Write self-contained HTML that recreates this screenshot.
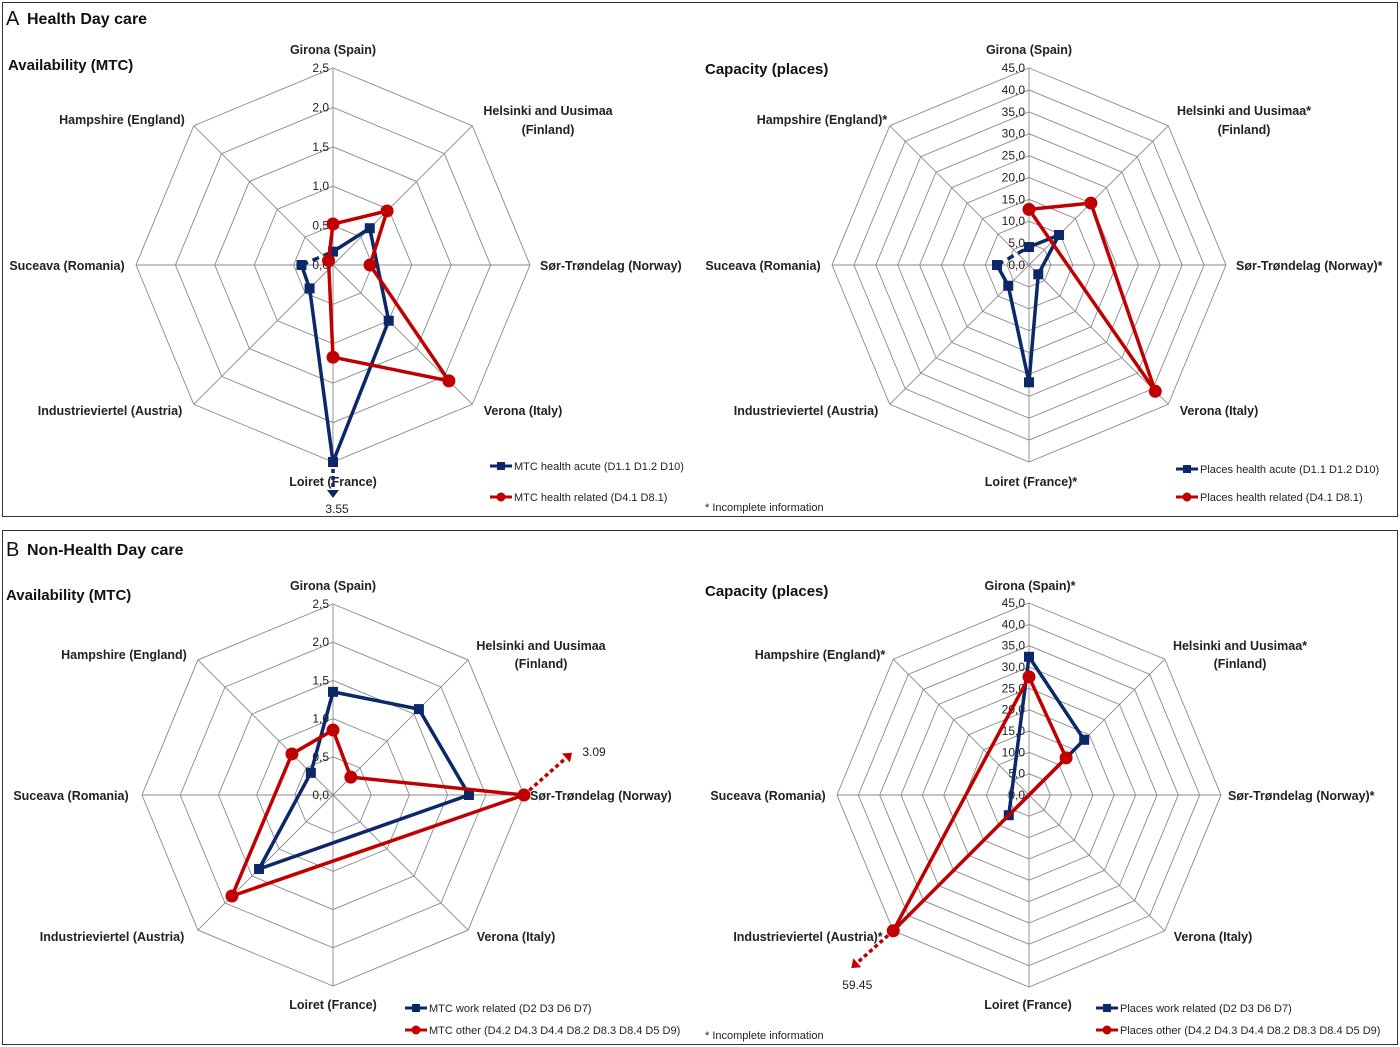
<!DOCTYPE html>
<html><head><meta charset="utf-8"><style>
html,body{margin:0;padding:0;background:#fff;}
svg{display:block;font-family:"Liberation Sans",Arial,sans-serif;}
.cat{font-size:12.5px;font-weight:bold;fill:#222;}
.tick{font-size:12px;fill:#222;}
.leg{font-size:11px;fill:#222;}
.ttl{font-size:15px;font-weight:bold;fill:#111;}
</style></head><body>
<svg id="page" width="1400" height="1047" viewBox="0 0 1400 1047" xmlns="http://www.w3.org/2000/svg">
<rect x="2.5" y="2.5" width="1395" height="514" fill="none" stroke="#333" stroke-width="1"/>
<rect x="2.5" y="530.5" width="1395" height="514" fill="none" stroke="#333" stroke-width="1"/>
<text x="6" y="25" style="font-size:20px;fill:#111">A</text>
<text x="27" y="24" style="font-size:16px;font-weight:bold;fill:#111">Health Day care</text>
<text x="6" y="556" style="font-size:20px;fill:#111">B</text>
<text x="27" y="555" style="font-size:16px;font-weight:bold;fill:#111">Non-Health Day care</text>
<text x="705" y="511" class="leg">* Incomplete information</text>
<text x="705" y="1039" class="leg">* Incomplete information</text>
<g id="charts"></g>
</svg>
<script>
// axis order: Girona, Helsinki, Sør-Trøndelag, Verona, Loiret, Industrieviertel, Suceava, Hampshire
const categories = ["Girona","Helsinki","Sor-Trondelag","Verona","Loiret","Industrieviertel","Suceava","Hampshire"];
const mtcTicks = ["0,0","0,5","1,0","1,5","2,0","2,5"];
const placesTicks = ["0,0","5,0","10,0","15,0","20,0","25,0","30,0","35,0","40,0","45,0"];
const aAcuteMTC   = [0.17, 0.66, null, 1.0, 3.55, 0.42, 0.40, null];
const aRelatedMTC = [0.52, 0.97, 0.47, 2.08, 1.17, null, null, 0.08];
const aAcutePlaces   = [4.1, 9.7, null, 3.0, 26.8, 6.7, 7.3, null];
const aRelatedPlaces = [12.7, 20.0, null, 40.8, null, null, null, null];
const bWorkMTC  = [1.35, 1.59, 1.78, null, null, 1.37, null, 0.41];
const bOtherMTC = [0.85, 0.33, 3.09, null, null, 1.87, null, 0.76];
const bWorkPlaces  = [32.4, 18.3, null, null, null, 6.7, null, null];
const bOtherPlaces = [27.7, 12.3, null, null, null, 59.45, null, null];

const NS="http://www.w3.org/2000/svg";
const root=document.getElementById('charts');
function mk(tag,attrs,parent){const e=document.createElementNS(NS,tag);for(const k in attrs)e.setAttribute(k,attrs[k]);(parent||root).appendChild(e);return e;}
const BLUE="#0c2868", RED="#c00000";

function radar(cfg){
  const g=mk('g',{});
  
  
  const n=categories.length, cx=cfg.cx, cy=cfg.cy, R=cfg.R, max=cfg.max, steps=cfg.ticks.length-1;
  const ang=i=>-Math.PI/2+i*2*Math.PI/n;
  const pt=(i,v)=>{const r=Math.min(v,max)/max*R;return [cx+r*Math.cos(ang(i)),cy+r*Math.sin(ang(i))];};
  for(let s=1;s<=steps;s++){
    const r=R*s/steps;let p=[];
    for(let i=0;i<n;i++)p.push((cx+r*Math.cos(ang(i))).toFixed(1)+','+(cy+r*Math.sin(ang(i))).toFixed(1));
    const ring=mk('polygon',{points:p.join(' '),fill:'none',stroke:'#8a8a8a','stroke-width':0.9},g);
    
    
  }
  for(let i=0;i<n;i++){
    const sp=mk('line',{x1:cx,y1:cy,x2:cx+R*Math.cos(ang(i)),y2:cy+R*Math.sin(ang(i)),stroke:'#8a8a8a','stroke-width':0.9},g);
    
    
  }
  cfg.ticks.forEach((t,s)=>{
    const tx=mk('text',{x:cx-4,y:cy-R*s/steps+4,'text-anchor':'end',class:'tick'},g);
    tx.textContent=t;
    
    
  });
  cfg.labels.forEach(L=>{
    const tx=mk('text',{x:L[0],y:L[1],'text-anchor':L[3]||'middle',class:'cat'},g);
    tx.textContent=L[2];
    
    
  });
  const at=mk('text',{x:cfg.title[0],y:cfg.title[1],class:'ttl'},g);
  at.textContent=cfg.title[2];
  
  
  cfg.series.forEach((S,si)=>{
    const idx=[];S.data.forEach((v,i)=>{if(v!==null)idx.push(i);});
    for(let k=0;k<idx.length;k++){
      const a=idx[k],b=idx[(k+1)%idx.length];
      const wrap=b<a && (a!==n-1 || b!==0);
      const p1=pt(a,S.data[a]),p2=pt(b,S.data[b]);
      const seg=mk('line',{x1:p1[0],y1:p1[1],x2:p2[0],y2:p2[1],stroke:S.color,'stroke-width':3.5,'stroke-dasharray':(wrap&&S.dashWrap)?'7 5':'none'},g);
      
      
    }
    S.data.forEach((v,i)=>{
      if(v===null)return;
      const p=pt(i,v);let m;
      if(S.shape==='sq')m=mk('rect',{x:p[0]-5,y:p[1]-5,width:10,height:10,fill:S.color},g);
      else m=mk('circle',{cx:p[0],cy:p[1],r:6.5,fill:S.color},g);
      
      
      if(v>max && S.arrow){
        const A=S.arrow;
        const ln=mk('line',{x1:p[0],y1:p[1],x2:p[0]+A.dx,y2:p[1]+A.dy,stroke:S.color,'stroke-width':3.5,'stroke-dasharray':'4 3'},g);
        
        
        const L=Math.hypot(A.dx,A.dy),ux=A.dx/L,uy=A.dy/L,ex=p[0]+A.dx,ey=p[1]+A.dy;
        const hd=mk('polygon',{points:`${ex+ux*8},${ey+uy*8} ${ex-uy*6},${ey+ux*6} ${ex+uy*6},${ey-ux*6}`,fill:S.color},g);
        
        
        const vt=mk('text',{x:p[0]+A.tx,y:p[1]+A.ty,class:'tick','text-anchor':'middle'},g);
        vt.textContent=String(v);
        
        
      }
    });
    const ly=cfg.legend[1]+si*cfg.legend[2];
    const ll=mk('line',{x1:cfg.legend[0],y1:ly,x2:cfg.legend[0]+22,y2:ly,stroke:S.color,'stroke-width':3},g);
    
    
    let lm;
    if(S.shape==='sq')lm=mk('rect',{x:cfg.legend[0]+7,y:ly-4,width:8,height:8,fill:S.color},g);
    else lm=mk('circle',{cx:cfg.legend[0]+11,cy:ly,r:4.5,fill:S.color},g);
    
    
    const lt=mk('text',{x:cfg.legend[0]+24,y:ly+4,class:'leg'},g);
    lt.textContent=S.label;
    
    
  });
}

radar({name:'radar-a-availability',cx:333,cy:265,R:197,max:2.5,ticks:mtcTicks,title:[8,70,'Availability (MTC)'],
 labels:[[333,54,'Girona (Spain)'],[548,115,'Helsinki and Uusimaa'],[548,134,'(Finland)'],[540,270,'Sør-Trøndelag  (Norway)','start'],[523,415,'Verona (Italy)'],[333,486,'Loiret (France)'],[110,415,'Industrieviertel (Austria)'],[67,270,'Suceava (Romania)'],[122,124,'Hampshire (England)']],
 legend:[490,466,31],
 series:[{data:aAcuteMTC,color:BLUE,shape:'sq',dashWrap:true,label:'MTC health acute (D1.1 D1.2 D10)',arrow:{dx:0,dy:28,tx:4,ty:51}},
         {data:aRelatedMTC,color:RED,shape:'ci',label:'MTC health related (D4.1 D8.1)'}]});
radar({name:'radar-a-capacity',cx:1029,cy:265,R:197,max:45,ticks:placesTicks,title:[705,74,'Capacity (places)'],
 labels:[[1029,54,'Girona (Spain)'],[1244,115,'Helsinki and Uusimaa*'],[1244,134,'(Finland)'],[1236,270,'Sør-Trøndelag  (Norway)*','start'],[1219,415,'Verona (Italy)'],[1031,486,'Loiret (France)*'],[806,415,'Industrieviertel (Austria)'],[763,270,'Suceava (Romania)'],[822,124,'Hampshire (England)*']],
 legend:[1176,469,28],
 series:[{data:aAcutePlaces,color:BLUE,shape:'sq',dashWrap:true,label:'Places health acute (D1.1 D1.2 D10)'},
         {data:aRelatedPlaces,color:RED,shape:'ci',label:'Places health related (D4.1 D8.1)'}]});
radar({name:'radar-b-availability',cx:333,cy:795,R:191,max:2.5,ticks:mtcTicks,title:[6,600,'Availability (MTC)'],
 labels:[[333,590,'Girona (Spain)'],[541,650,'Helsinki and Uusimaa'],[541,668,'(Finland)'],[530,800,'Sør-Trøndelag  (Norway)','start'],[516,941,'Verona (Italy)'],[333,1009,'Loiret (France)'],[112,941,'Industrieviertel (Austria)'],[71,800,'Suceava (Romania)'],[124,659,'Hampshire (England)']],
 legend:[405,1008,22],
 series:[{data:bWorkMTC,color:BLUE,shape:'sq',label:'MTC work related (D2 D3 D6 D7)'},
         {data:bOtherMTC,color:RED,shape:'ci',label:'MTC other (D4.2 D4.3 D4.4 D8.2 D8.3 D8.4 D5 D9)',arrow:{dx:42,dy:-37,tx:70,ty:-39}}]});
radar({name:'radar-b-capacity',cx:1029,cy:795,R:192,max:45,ticks:placesTicks,title:[705,596,'Capacity (places)'],
 labels:[[1030,590,'Girona (Spain)*'],[1240,650,'Helsinki and Uusimaa*'],[1240,668,'(Finland)'],[1228,800,'Sør-Trøndelag  (Norway)*','start'],[1213,941,'Verona (Italy)'],[1028,1009,'Loiret (France)'],[808,941,'Industrieviertel (Austria)*'],[768,800,'Suceava (Romania)'],[820,659,'Hampshire (England)*']],
 legend:[1096,1008,22],
 series:[{data:bWorkPlaces,color:BLUE,shape:'sq',label:'Places work related (D2 D3 D6 D7)'},
         {data:bOtherPlaces,color:RED,shape:'ci',label:'Places other (D4.2 D4.3 D4.4 D8.2 D8.3 D8.4 D5 D9)',arrow:{dx:-36,dy:32,tx:-36,ty:58}}]});
</script>
</body></html>
